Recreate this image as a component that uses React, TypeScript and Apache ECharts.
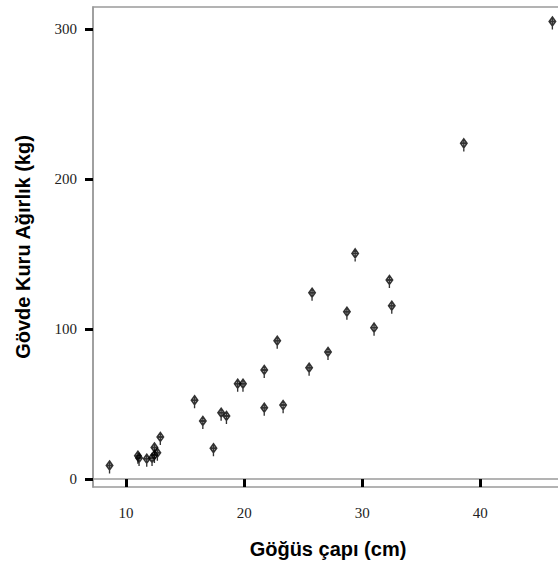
import React, { useEffect, useRef } from "react";
import * as echarts from "echarts";

const chestDiameter = [
  8.6, 11.0, 11.1, 11.75, 12.2, 12.4, 12.4, 12.65, 12.9, 15.8,
  16.5, 17.4, 18.05, 18.5, 19.45, 19.9, 21.7, 21.7, 22.8, 23.3,
  25.5, 25.75, 27.1, 28.7, 29.4, 31.0, 32.3, 32.5, 38.6, 46.1,
];
const dryWeight = [
  9, 15.5, 14, 13.5, 14, 16, 21, 17.5, 28, 52.5,
  38.7, 20.5, 44.2, 42, 63.5, 63.5, 72.7, 47.5, 92.2, 49.3,
  74.2, 124.2, 84.7, 111.5, 150.4, 100.9, 132.7, 115.5, 223.8, 305,
];
const xTicks = [10, 20, 30, 40];
const yTicks = [0, 100, 200, 300];
const xTitle = "Göğüs çapı (cm)";
const yTitle = "Gövde Kuru Ağırlık (kg)";

const markerPath =
  "path://M5 0 L10 5 L5 10 L0 5 Z M0 5 L10 5 M5 0 L5 14";

export default function App() {
  const ref = useRef<HTMLDivElement>(null);
  useEffect(() => {
    if (!ref.current) return;
    const chart = echarts.init(ref.current, null, { renderer: "svg" });
    const data = chestDiameter.map((x, i) => [x, dryWeight[i]]);
    chart.setOption({
      animation: false,
      backgroundColor: "#fff",
      grid: {
        left: 93,
        top: 7,
        right: 0,
        bottom: 82,
        show: true,
        borderColor: "#9a9a9a",
        borderWidth: 1.5,
        backgroundColor: "transparent",
      },
      xAxis: {
        type: "value",
        min: 7.2,
        max: 47,
        name: xTitle,
        nameLocation: "middle",
        nameGap: 52,
        nameTextStyle: {
          fontFamily: "Liberation Sans, Arial, sans-serif",
          fontWeight: "bold",
          fontSize: 20,
          color: "#000",
        },
        axisLine: { show: true, lineStyle: { color: "#9a9a9a", width: 1.5 } },
        axisTick: {
          show: true,
          inside: false,
          length: 8,
          customValues: xTicks,
          lineStyle: { color: "#000", width: 3 },
        },
        axisLabel: {
          customValues: xTicks,
          margin: 18,
          fontFamily: "Liberation Serif, Times New Roman, serif",
          fontSize: 15,
          color: "#222",
        },
        splitLine: { show: false },
      },
      yAxis: {
        type: "value",
        min: -5.3,
        max: 314.7,
        name: yTitle,
        nameLocation: "middle",
        nameGap: 60,
        nameTextStyle: {
          fontFamily: "Liberation Sans, Arial, sans-serif",
          fontWeight: "bold",
          fontSize: 20,
          color: "#000",
        },
        axisLine: { show: true, lineStyle: { color: "#9a9a9a", width: 1.5 } },
        axisTick: {
          show: true,
          inside: false,
          length: 8,
          customValues: yTicks,
          lineStyle: { color: "#000", width: 3 },
        },
        axisLabel: {
          customValues: yTicks,
          margin: 16,
          fontFamily: "Liberation Serif, Times New Roman, serif",
          fontSize: 15,
          color: "#222",
        },
        splitLine: { show: false },
      },
      series: [
        {
          type: "scatter",
          data,
          symbol: markerPath,
          symbolSize: [9, 12.6],
          symbolOffset: [0, "14%"],
          symbolKeepAspect: true,
          itemStyle: {
            color: "rgba(0,0,0,0)",
            borderColor: "#000",
            borderWidth: 1.6,
          },
        },
      ],
    });
    return () => chart.dispose();
  }, []);
  return (
    <div
      style={{
        position: "fixed",
        left: 0,
        top: 0,
        width: 558,
        height: 569,
        overflow: "hidden",
      }}
    >
      <div ref={ref} style={{ width: 563, height: 569 }} />
    </div>
  );
}
